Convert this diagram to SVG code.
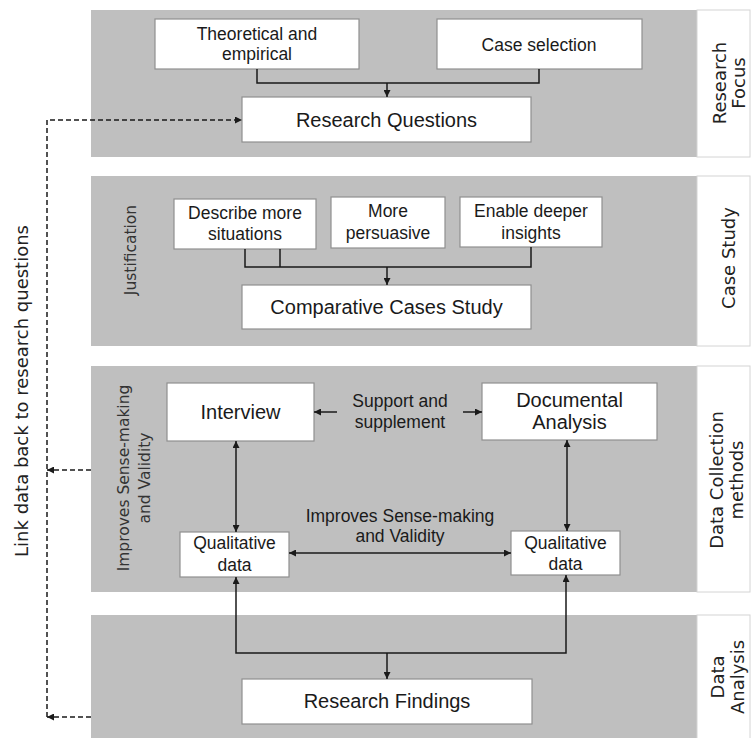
<svg xmlns="http://www.w3.org/2000/svg" width="751" height="738" viewBox="0 0 751 738">
<style>
.band{fill:#bfbfbf}
.lbl{fill:#ffffff;stroke:#d4d4d4;stroke-width:1}
.box{fill:#ffffff;stroke:#8f8f8f;stroke-width:1.2}
.t{font-family:"Liberation Sans",Arial,sans-serif;fill:#1a1a1a;text-anchor:middle}
.big{font-size:20px}
.sm{font-size:17.5px}
.side{font-family:"DejaVu Sans",sans-serif;font-size:18px;fill:#222222;text-anchor:middle}
.vert{font-family:"DejaVu Sans",sans-serif;font-size:15.5px;fill:#333333;text-anchor:middle}
.conn{fill:none;stroke:#1a1a1a;stroke-width:1.5}
.dash{stroke-dasharray:5 3}
</style>
<defs>
<marker id="ah" viewBox="0 0 10 10" refX="10" refY="5" markerWidth="7" markerHeight="7" markerUnits="userSpaceOnUse" orient="auto-start-reverse">
<path d="M0,0 L10,5 L0,10 z" fill="#1a1a1a"/>
</marker>
</defs>
<rect width="751" height="738" fill="#ffffff"/>

<g id="band-research-focus">
<rect class="band" x="91" y="10" width="606" height="147"/>
<rect class="lbl" x="697" y="10" width="53" height="147"/>
<text class="side" transform="translate(726,83) rotate(-90)"><tspan x="0" y="0">Research</tspan><tspan x="0" y="19">Focus</tspan></text>
</g>
<g id="band-case-study">
<rect class="band" x="91" y="176" width="606" height="170"/>
<rect class="lbl" x="697" y="176" width="53" height="170"/>
<text class="side" transform="translate(735,258) rotate(-90)">Case Study</text>
<text class="vert" transform="translate(136,250) rotate(-90)">Justification</text>
</g>
<g id="band-data-collection">
<rect class="band" x="91" y="366" width="606" height="226"/>
<rect class="lbl" x="697" y="366" width="53" height="226"/>
<text class="side" transform="translate(723,480) rotate(-90)"><tspan x="0" y="0">Data Collection</tspan><tspan x="0" y="20">methods</tspan></text>
<text class="vert" transform="translate(129,478) rotate(-90)"><tspan x="0" y="0">Improves Sense-making</tspan><tspan x="0" y="21">and Validity</tspan></text>
</g>
<g id="band-data-analysis">
<rect class="band" x="91" y="615" width="606" height="123"/>
<rect class="lbl" x="697" y="615" width="53" height="124"/>
<text class="side" transform="translate(724,677) rotate(-90)"><tspan x="0" y="0">Data</tspan><tspan x="0" y="20">Analysis</tspan></text>
</g>

<g id="link-label">
<text class="side" transform="translate(28,391) rotate(-90)">Link data back to research questions</text>
</g>

<g id="node-theoretical">
<rect class="box" x="155" y="19" width="204" height="50"/>
<text class="t sm" x="257" y="40">Theoretical and</text>
<text class="t sm" x="257" y="60">empirical</text>
</g>
<g id="node-case-selection">
<rect class="box" x="437" y="19" width="205" height="50"/>
<text class="t sm" x="539" y="51">Case selection</text>
</g>
<g id="node-research-questions">
<rect class="box" x="242" y="97" width="289" height="45"/>
<text class="t big" x="386.5" y="126.5">Research Questions</text>
</g>

<g id="node-describe">
<rect class="box" x="174" y="199" width="142" height="50"/>
<text class="t sm" x="245" y="219">Describe more</text>
<text class="t sm" x="245" y="240">situations</text>
</g>
<g id="node-persuasive">
<rect class="box" x="331" y="197" width="114" height="51"/>
<text class="t sm" x="388" y="217">More</text>
<text class="t sm" x="388" y="239">persuasive</text>
</g>
<g id="node-deeper">
<rect class="box" x="460" y="197" width="142" height="50"/>
<text class="t sm" x="531" y="217">Enable deeper</text>
<text class="t sm" x="531" y="239">insights</text>
</g>
<g id="node-comparative">
<rect class="box" x="242" y="285" width="289" height="44"/>
<text class="t big" x="386.5" y="314">Comparative Cases Study</text>
</g>

<g id="node-interview">
<rect class="box" x="167" y="383" width="147" height="58"/>
<text class="t big" x="240.5" y="419">Interview</text>
</g>
<g id="node-documental">
<rect class="box" x="482" y="383" width="175" height="57"/>
<text class="t big" x="569.5" y="407">Documental</text>
<text class="t big" x="569.5" y="429">Analysis</text>
</g>
<g id="node-qual-left">
<rect class="box" x="180" y="532" width="109" height="45"/>
<text class="t sm" x="234.5" y="549">Qualitative</text>
<text class="t sm" x="234.5" y="571">data</text>
</g>
<g id="node-qual-right">
<rect class="box" x="511" y="531" width="109" height="44"/>
<text class="t sm" x="565.5" y="549">Qualitative</text>
<text class="t sm" x="565.5" y="570">data</text>
</g>
<g id="node-findings">
<rect class="box" x="242" y="679" width="290" height="45"/>
<text class="t big" x="387" y="708">Research Findings</text>
</g>

<g id="edge-labels">
<text class="t sm" x="400" y="407">Support and</text>
<text class="t sm" x="400" y="428">supplement</text>
<text class="t sm" x="400" y="522">Improves Sense-making</text>
<text class="t sm" x="400" y="542">and Validity</text>
</g>

<g id="connectors">
<path class="conn" d="M257,69 V83 H539 V69"/>
<path class="conn" d="M387,83 V97" marker-end="url(#ah)"/>
<path class="conn" d="M245,249 V267 H531 V247"/>
<path class="conn" d="M280,249 V267"/>
<path class="conn" d="M387,267 V285" marker-end="url(#ah)"/>
<path class="conn" d="M337,412 H314" marker-end="url(#ah)"/>
<path class="conn" d="M463,412 H482" marker-end="url(#ah)"/>
<path class="conn" d="M236,441 V532" marker-start="url(#ah)" marker-end="url(#ah)"/>
<path class="conn" d="M567,440 V531" marker-start="url(#ah)" marker-end="url(#ah)"/>
<path class="conn" d="M289,553 H511" marker-start="url(#ah)" marker-end="url(#ah)"/>
<path class="conn" d="M236,577 V653 H566 V575" marker-start="url(#ah)" marker-end="url(#ah)"/>
<path class="conn" d="M387,653 V679" marker-end="url(#ah)"/>
<path class="conn dash" d="M47,717 V120 H242" marker-end="url(#ah)"/>
<path class="conn dash" d="M91,470 H47" marker-end="url(#ah)"/>
<path class="conn dash" d="M91,717 H47" marker-end="url(#ah)"/>
</g>
</svg>
